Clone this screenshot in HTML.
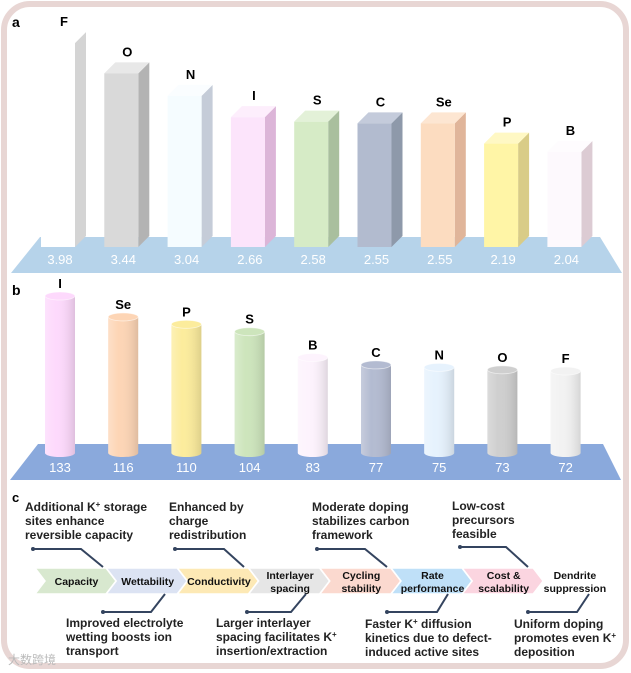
<!DOCTYPE html>
<html><head><meta charset="utf-8">
<style>
html,body{margin:0;padding:0;background:#fff;}
svg{display:block;font-family:"Liberation Sans",Arial,sans-serif;}
</style></head>
<body>
<svg id="fig" width="631" height="673" viewBox="0 0 631 673" xmlns="http://www.w3.org/2000/svg">
<defs>
<linearGradient id="cylShade" x1="0" x2="1" y1="0" y2="0">
<stop offset="0" stop-color="#fff" stop-opacity="0.25"/>
<stop offset="0.35" stop-color="#fff" stop-opacity="0"/>
<stop offset="1" stop-color="#000" stop-opacity="0.12"/>
</linearGradient>
</defs>
<rect x="4" y="4" width="622" height="662" rx="26" ry="26" fill="#fff" stroke="#e8d6d4" stroke-width="6"/>
<text x="12" y="27" font-size="14" font-weight="bold">a</text>
<text x="12" y="295" font-size="14" font-weight="bold">b</text>
<text x="12" y="502" font-size="13" font-weight="bold">c</text>
<polygon points="11,273 40,237 600,237 622,273" fill="#b6d3ea"/>
<polygon points="10,480 38,444 603,444 621,480" fill="#8aa9dc"/>
<g id="gA"></g>
<g id="gB"></g>
<g id="gC"></g>
<text x="8" y="664" font-size="12" fill="#bbb" font-family="'Liberation Sans','Noto Sans CJK SC',sans-serif">大数跨境</text>
</svg>
<script>
// Panel a: electronegativity
const aElements = ["F","O","N","I","S","C","Se","P","B"];
const aValues = [3.98,3.44,3.04,2.66,2.58,2.55,2.55,2.19,2.04];
const aLabels = ["3.98","3.44","3.04","2.66","2.58","2.55","2.55","2.19","2.04"];
// Panel b: atomic radius
const bElements = ["I","Se","P","S","B","C","N","O","F"];
const bValues = [133,116,110,104,83,77,75,73,72];
const bLabels = ["133","116","110","104","83","77","75","73","72"];
// Panel c
const cSteps = [["Capacity"],["Wettability"],["Conductivity"],["Interlayer","spacing"],["Cycling","stability"],["Rate","performance"],["Cost &","scalability"],["Dendrite","suppression"]];

const NS="http://www.w3.org/2000/svg";
function mk(tag,attrs,parent){const e=document.createElementNS(NS,tag);for(const k in attrs)e.setAttribute(k,attrs[k]);parent.appendChild(e);return e;}

const aFront={F:"#ffffff",O:"#d9d9d9",N:"#f5fcff",I:"#fce4fb",S:"#d6ebc6",C:"#b2bbcf",Se:"#fcdcc0",P:"#fff5a6",B:"#fdf9fd"};
const aSide={F:"#d4d4d4",O:"#b3b3b3",N:"#c5ccd8",I:"#dcb5d8",S:"#a9bf9e",C:"#8e99aa",Se:"#e0b59a",P:"#d9cc87",B:"#dccbd3"};
const aTop={F:"#ffffff",O:"#e8e8e8",N:"#fafdff",I:"#fdeefc",S:"#e3f1d8",C:"#c4cbdb",Se:"#fde6d2",P:"#fff8c4",B:"#fefcfe"};
function ax(i){return 58+i*63.3;}
function ayH(v){return 56.2*(v-0.35);}
const gA=document.getElementById('gA');
const base=247, bw=34, d=11;
aElements.forEach((el,i)=>{
  const cx=ax(i), h=ayH(aValues[i]), x0=cx-bw/2, top=base-h;
  const g=mk('g',{},gA);
  
  
  mk('polygon',{points:`${x0+bw},${top} ${x0+bw+d},${top-d} ${x0+bw+d},${base-d} ${x0+bw},${base}`,fill:aSide[el]},g);
  mk('polygon',{points:`${x0},${top} ${x0+d},${top-d} ${x0+bw+d},${top-d} ${x0+bw},${top}`,fill:aTop[el]},g);
  mk('rect',{x:x0,y:top,width:bw,height:h,fill:aFront[el]},g);
  const t=mk('text',{x:cx+6,y:top-d-6,'font-size':13,'font-weight':'bold','text-anchor':'middle'},gA);
  t.textContent=el;
  
  
  const v=mk('text',{x:cx+2,y:264,'font-size':13,fill:'#fff','text-anchor':'middle'},gA);
  v.textContent=aLabels[i];
  
  
});

const bCol={I:"#fdd9fc",Se:"#fdd5b5",P:"#fcec9c",S:"#cde5bc",B:"#fdf3fd",C:"#b3bbd1",N:"#e6f2fd",O:"#cfcfcf",F:"#f2f2f2"};
function bx(i){return 60+i*63.2;}
function bh(v){return 1.23*v-6.6;}
const gB=document.getElementById('gB');
const bBase=453, cw=30, ry=4;
bElements.forEach((el,i)=>{
  const cx=bx(i), h=bh(bValues[i]), top=bBase-h, x0=cx-cw/2;
  const g=mk('g',{},gB);
  
  
  mk('path',{d:`M${x0},${top} L${x0},${bBase} A${cw/2},${ry} 0 0 0 ${x0+cw},${bBase} L${x0+cw},${top} Z`,fill:bCol[el]},g);
  mk('path',{d:`M${x0},${top} L${x0},${bBase} A${cw/2},${ry} 0 0 0 ${x0+cw},${bBase} L${x0+cw},${top} Z`,fill:'url(#cylShade)'},g);
  mk('ellipse',{cx:cx,cy:top,rx:cw/2,ry:ry,fill:bCol[el],stroke:'#fff','stroke-opacity':0.6,'stroke-width':0.8},g);
  const t=mk('text',{x:cx,y:top-8,'font-size':13,'font-weight':'bold','text-anchor':'middle'},gB);
  t.textContent=el;
  
  
  const v=mk('text',{x:cx,y:472,'font-size':13,fill:'#fff','text-anchor':'middle'},gB);
  v.textContent=bLabels[i];
  
  
});

// Panel c
const gC=document.getElementById('gC');
const cCols=["#d8e8cf","#dce3f3","#fde9b5","#e6e6e6","#fbd9cf","#bfe0f8","#fbd5e0","#ffffff"];
const cy0=568, cy1=594, tip=10, cwid=71;
cSteps.forEach((lines,i)=>{
  const x=35+i*71.2;
  const g=mk('g',{},gC);
  
  
  const ym=(cy0+cy1)/2;
  mk('polygon',{points:`${x},${cy0} ${x+cwid},${cy0} ${x+cwid+tip},${ym} ${x+cwid},${cy1} ${x},${cy1} ${x+tip},${ym}`,fill:cCols[i],stroke:'#fff','stroke-width':1.5},g);
  const tx=x+cwid/2+6;
  lines.forEach((ln,j)=>{
    const t=mk('text',{x:tx,y:lines.length==1?ym+4:cy0+11+j*13,'font-size':10.5,'text-anchor':'middle',fill:'#111','font-weight':'bold'},g);
    t.textContent=ln;
  });
});
const lineCol="#34445f";
function conn(pts,name){
  const p=mk('polyline',{points:pts.map(q=>q.join(',')).join(' '),fill:'none',stroke:lineCol,'stroke-width':2},gC);
  
  
  mk('circle',{cx:pts[0][0],cy:pts[0][1],r:2,fill:lineCol},gC);
}
conn([[33,549],[81,549],[103,567]],'connector-capacity');
conn([[175,549],[224,549],[244,567]],'connector-conductivity');
conn([[317,549],[365,549],[387,567]],'connector-cycling');
conn([[460,547],[506,547],[528,567]],'connector-cost');
conn([[103,612],[151,612],[165,594]],'connector-wettability');
conn([[247,612],[291,612],[306,594]],'connector-interlayer');
conn([[387,612],[437,612],[448,594]],'connector-rate');
conn([[528,612],[577,612],[589,594]],'connector-dendrite');

function note(x,y,lines,name){
  const g=mk('g',{},gC);
  
  
  lines.forEach((ln,j)=>{
    const t=mk('text',{x:x,y:y+j*14,'font-size':12,fill:'#222','font-weight':'bold'},g);
    t.innerHTML=ln;
  });
}
const SUP="<tspan font-size='8' baseline-shift='super'>+</tspan>";
note(25,511,["Additional K"+SUP+" storage","sites enhance","reversible capacity"],'note-capacity');
note(169,511,["Enhanced by","charge","redistribution"],'note-conductivity');
note(312,511,["Moderate doping","stabilizes carbon","framework"],'note-cycling');
note(452,510,["Low-cost","precursors","feasible"],'note-cost');
note(66,627,["Improved electrolyte","wetting boosts ion","transport"],'note-wettability');
note(216,627,["Larger interlayer","spacing  facilitates K"+SUP,"insertion/extraction"],'note-interlayer');
note(365,628,["Faster K"+SUP+" diffusion","kinetics due to defect-","induced active sites"],'note-rate');
note(514,628,["Uniform doping","promotes even K"+SUP,"deposition"],'note-dendrite');
</script>
</body></html>
